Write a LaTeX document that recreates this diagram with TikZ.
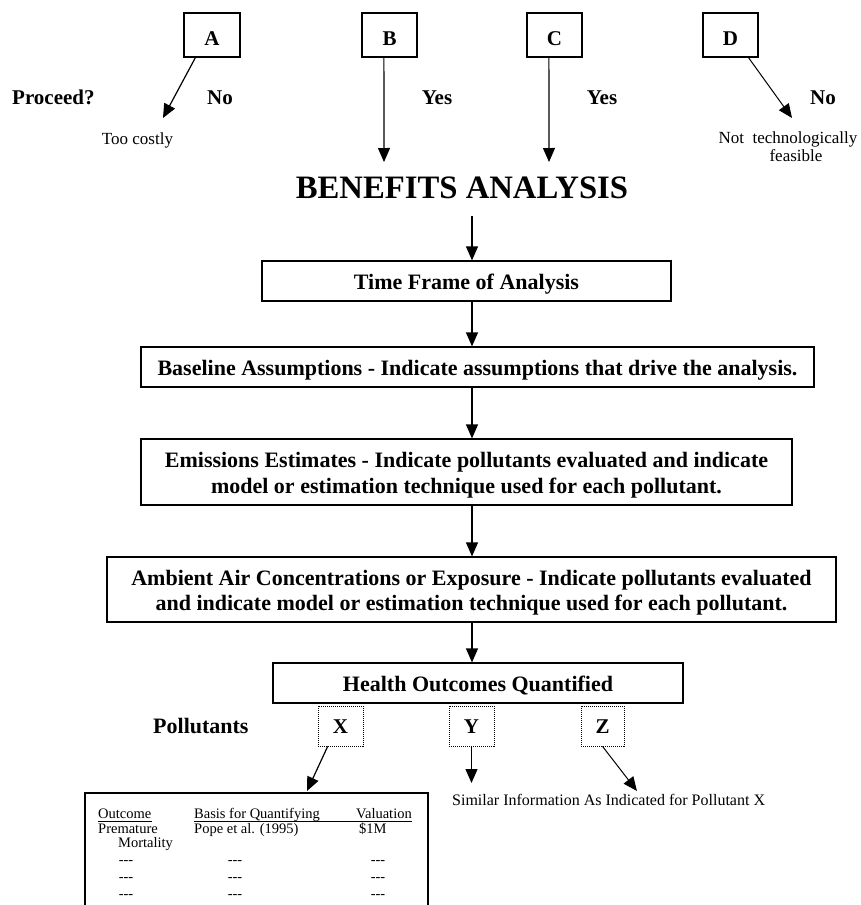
\documentclass[tikz,border=0pt]{standalone}
\usepackage{fontspec}
\setmainfont{Liberation Serif}
\usetikzlibrary{arrows.meta,calc}
\begin{document}
\begin{tikzpicture}[x=1pt,y=-1pt,
  arr/.style={line width=1.2pt,-{Triangle[length=14pt,width=12pt]}},
  box/.style={draw,line width=1.2pt,inner sep=0pt,align=center},
  one/.style={text height=17pt,text depth=1pt},
  two/.style={text height=43pt,text depth=1pt},
  bt/.style={font=\fontsize{22}{25.5}\selectfont\bfseries},
  letter/.style={box,font=\fontsize{21}{25}\selectfont\bfseries,text height=20pt,text depth=0pt,minimum width=55pt,minimum height=44pt},
  pol/.style={draw,line width=0.7pt,dash pattern=on 1pt off 1pt,inner sep=0pt,font=\fontsize{21}{25}\selectfont\bfseries,text height=14pt,text depth=0pt,minimum width=45pt,minimum height=40pt},
  rt/.style={font=\fontsize{17}{18}\selectfont,inner sep=0pt},
  tt/.style={font=\fontsize{14.5}{16}\selectfont,inner sep=0pt}
]
\useasboundingbox (0,0) rectangle (860,905);
\clip (0,0) rectangle (860,905);
\coordinate (col) at (472,0);

% decision boxes
\node[letter,minimum width=56pt] (A) at (212,35) {A};
\node[letter] (B) at (389.5,35) {B};
\node[letter] (C) at (554.5,35) {C};
\node[letter] (D) at (730.5,35) {D};

\node[bt,font=\fontsize{21}{25}\selectfont\bfseries,inner sep=0pt,anchor=base west] (proc) at (12,104) {Proceed?};
\node[bt,font=\fontsize{21}{25}\selectfont\bfseries,inner sep=0pt,anchor=base] (noA) at (220,104) {No};
\node[bt,font=\fontsize{21}{25}\selectfont\bfseries,inner sep=0pt,anchor=base] (yesB) at (437,104) {Yes};
\node[bt,font=\fontsize{21}{25}\selectfont\bfseries,inner sep=0pt,anchor=base] (yesC) at (602,104) {Yes};
\node[bt,font=\fontsize{21}{25}\selectfont\bfseries,inner sep=0pt,anchor=base] (noD) at (823,104) {No};

\node[rt,anchor=base] (costly) at (137.5,144) {Too costly};
\node[rt,anchor=north,align=center] (feas) at (788,131.5) {Not~ technologically\\\hspace*{16pt}feasible};

\coordinate (tipA) at (163,118);
\coordinate (tipB) at (384,162);
\coordinate (tipC) at (549,162);
\coordinate (tipD) at (792,118);
\draw[arr] ($(A.south west)!0.21!(A.south east)$) -- (tipA);
\draw[arr] ($(B.south west)!0.4!(B.south east)$) -- (tipB);
\draw[arr] ($(C.south west)!0.4!(C.south east)$) -- (tipC);
\draw[arr,line width=1pt] ($(D.south west)!0.82!(D.south east)$) -- (tipD);

\node[font=\fontsize{32.7}{36}\selectfont\bfseries,inner sep=0pt,anchor=base] (title) at (462,198) {BENEFITS ANALYSIS};
\coordinate (t0) at (472,216);

% main column
\node[box,bt,one,minimum width=409pt,minimum height=40pt] (tf) at (466.5,281) {Time Frame of Analysis};
\node[box,bt,one,minimum width=673pt,minimum height=40pt] (bl) at (477.5,367) {Baseline Assumptions - Indicate assumptions that drive the analysis.};
\node[box,bt,two,minimum width=651pt,minimum height=66pt] (em) at (466.5,472) {Emissions Estimates - Indicate pollutants evaluated and indicate\\model or estimation technique used for each pollutant.};
\node[box,bt,two,minimum width=729pt,minimum height=65pt] (amb) at (471.5,589.5) {Ambient Air Concentrations or Exposure - Indicate pollutants evaluated\\and indicate model or estimation technique used for each pollutant.};
\node[box,bt,one,minimum width=410pt,minimum height=40pt] (hl) at (478,683) {Health Outcomes Quantified};

\draw[arr] (t0) -- (tf.north -| col);
\draw[arr] (tf.south -| col) -- (bl.north -| col);
\draw[arr] (bl.south -| col) -- (em.north -| col);
\draw[arr] (em.south -| col) -- (amb.north -| col);
\draw[arr] (amb.south -| col) -- (hl.north -| col);

% pollutants
\node[bt,inner sep=0pt,anchor=base west] (pols) at (153,733) {Pollutants};
\node[pol] (X) at (340.5,726) {X};
\node[pol] (Y) at (471.5,726) {Y};
\node[pol,minimum width=43pt] (Z) at (602.5,726) {Z};

\coordinate (tipX) at (307,791);
\coordinate (tipY) at (471.5,783);
\coordinate (tipZ) at (637,791);
\draw[arr] ($(X.south west)!0.22!(X.south east)$) -- (tipX);
\draw[arr] (Y.south) -- (tipY);
\draw[arr,line width=1pt] (Z.south) -- (tipZ);

\node[font=\fontsize{16}{18}\selectfont,inner sep=0pt,anchor=base west] (sim) at (452,805) {Similar Information As Indicated for Pollutant X};

% table (bottom edge falls outside the page)
\node[draw,line width=1.2pt,minimum width=343pt,minimum height=160pt,inner sep=0pt] (tbl) at (256.5,873) {};
\node[tt,anchor=base west] (h1) at (98,818) {Outcome};
\node[tt,anchor=base west] (h2) at (194,818) {Basis for Quantifying};
\node[tt,anchor=base west] (h3) at (356,818) {Valuation};
\draw[line width=0.9pt] (h1.base west |- 0,821) -- (h1.base east |- 0,821);
\draw[line width=0.9pt] (h2.base west |- 0,821) -- (h3.base east |- 0,821);
\node[tt,anchor=base west] (r1a) at (98,833) {Premature};
\node[tt,anchor=base west] (r1b) at (118,847) {Mortality};
\node[tt,anchor=base west] (r1c) at (194,833) {Pope et al. (1995)};
\node[tt,anchor=base west] (r1d) at (359,833) {\$1M};
\foreach \yy [count=\i] in {864,881,898}{
  \node[tt,anchor=base] (da\i) at (126,\yy) {-{}-{}-};
  \node[tt,anchor=base] (db\i) at (235,\yy) {-{}-{}-};
  \node[tt,anchor=base] (dc\i) at (378,\yy) {-{}-{}-};
}
\end{tikzpicture}
\end{document}
